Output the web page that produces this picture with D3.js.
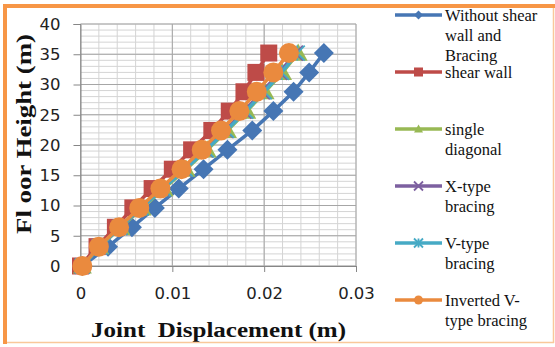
<!DOCTYPE html>
<html lang="en">
<head>
	<meta charset="utf-8">
	<title>Joint Displacement</title>
	<script src="https://d3js.org/d3.v7.min.js"></script>
	<style>
	body {margin: 0; background: #ffffff;}
	svg {display: block;}
	</style>
</head>
<body>
<div id="chart"></div>
<script>

//Floor heights (m)
var heights = [0, 3.2, 6.4, 9.6, 12.8, 16, 19.2, 22.4, 25.6, 28.8, 32, 35.2];

//Joint displacement (m) for each model
var withoutBracing = [0.0002, 0.0030, 0.0056, 0.0081, 0.0107, 0.0134, 0.0160, 0.0187, 0.0210, 0.0232, 0.0249, 0.0265];
var shearWall      = [0.0000, 0.0018, 0.0038, 0.0057, 0.0078, 0.0100, 0.0121, 0.0143, 0.0162, 0.0178, 0.0191, 0.0205];
var singleDiagonal = [0.0002, 0.0021, 0.0044, 0.0067, 0.0091, 0.0115, 0.0138, 0.0160, 0.0181, 0.0201, 0.0220, 0.0237];
var xBracing       = [0.0002, 0.0020, 0.0043, 0.0066, 0.0089, 0.0113, 0.0136, 0.0158, 0.0178, 0.0198, 0.0217, 0.0234];
var vBracing       = [0.0002, 0.0021, 0.0043, 0.0066, 0.0090, 0.0114, 0.0137, 0.0159, 0.0180, 0.0200, 0.0219, 0.0236];
var invertedV      = [0.0002, 0.0020, 0.0042, 0.0064, 0.0087, 0.0110, 0.0132, 0.0153, 0.0173, 0.0192, 0.0210, 0.0227];

//Legend labels (one list of lines per series)
var legendLabels = [
	["Without shear", "wall and", "Bracing"],
	["shear wall"],
	["single", "diagonal"],
	["X-type", "bracing"],
	["V-type", "bracing"],
	["Inverted V-", "type bracing"]
];

//Tick labels
var xTicks = [0, 0.01, 0.02, 0.03];
var yTicks = [0, 5, 10, 15, 20, 25, 30, 35, 40];

var series = [
	{values: withoutBracing, color: "#4676b4", marker: "diamond"},
	{values: shearWall, color: "#be4b48", marker: "square"},
	{values: singleDiagonal, color: "#98b954", marker: "triangle"},
	{values: xBracing, color: "#7d60a0", marker: "x"},
	{values: vBracing, color: "#46aac5", marker: "star"},
	{values: invertedV, color: "#ea8a3e", marker: "circle"}
];

var width = 555, height = 347;

var svg = d3.select("#chart").append("svg")
	.attr("width", width)
	.attr("height", height);

svg.append("rect").attr("width", width).attr("height", height).attr("fill", "#ffffff");

//Scales
var xScale = d3.scaleLinear().domain([0, 0.03]).range([80.5, 356]);
var yScale = d3.scaleLinear().domain([0, 40]).range([266, 24]);

//Gridlines - minor first, then major
var grid = svg.append("g");
grid.selectAll(".minorY")
	.data(d3.range(0, 41, 1))
	.enter().append("line")
	.attr("x1", xScale(0)).attr("x2", xScale(0.03))
	.attr("y1", function(d){ return yScale(d); })
	.attr("y2", function(d){ return yScale(d); })
	.attr("stroke", "#d4d4d4").attr("stroke-width", 1);
grid.selectAll(".minorX")
	.data(d3.range(0, 16, 1))
	.enter().append("line")
	.attr("x1", function(d){ return xScale(d * 0.002); })
	.attr("x2", function(d){ return xScale(d * 0.002); })
	.attr("y1", yScale(0)).attr("y2", yScale(40))
	.attr("stroke", "#d4d4d4").attr("stroke-width", 1);
grid.selectAll(".majorY")
	.data(yTicks)
	.enter().append("line")
	.attr("x1", xScale(0)).attr("x2", xScale(0.03))
	.attr("y1", function(d){ return yScale(d); })
	.attr("y2", function(d){ return yScale(d); })
	.attr("stroke", "#a6a6a6").attr("stroke-width", 1);
grid.selectAll(".majorX")
	.data(xTicks)
	.enter().append("line")
	.attr("x1", function(d){ return xScale(d); })
	.attr("x2", function(d){ return xScale(d); })
	.attr("y1", yScale(0)).attr("y2", yScale(40))
	.attr("stroke", "#a6a6a6").attr("stroke-width", 1);

//Axes
var yAxis = d3.axisLeft(yScale).tickValues(yTicks).tickSize(7).tickPadding(13).tickFormat(d3.format("d"));
var xAxis = d3.axisBottom(xScale).tickValues(xTicks).tickSize(6).tickPadding(15)
	.tickFormat(function(d){ return d === 0 ? "0" : d3.format(".2f")(d); });

var gy = svg.append("g").attr("transform", "translate(" + xScale(0) + ",0)").call(yAxis);
var gx = svg.append("g").attr("transform", "translate(0," + yScale(0) + ")").call(xAxis);

[gx, gy].forEach(function(g){
	g.select(".domain").attr("stroke", "#868686");
	g.selectAll(".tick line").attr("stroke", "#868686");
	g.selectAll("text")
		.attr("fill", "#222")
		.style("font-family", "'DejaVu Sans', sans-serif")
		.style("font-size", "16.5px");
});

//Marker drawing
function drawMarker(sel, type, color, s) {
	if (type === "diamond") {
		sel.append("path").attr("d", "M0," + (-s) + "L" + s + ",0L0," + s + "L" + (-s) + ",0Z").attr("fill", color);
	} else if (type === "square") {
		sel.append("rect").attr("x", -s).attr("y", -s).attr("width", 2 * s).attr("height", 2 * s).attr("fill", color);
	} else if (type === "triangle") {
		sel.append("path").attr("d", "M0," + (-s) + "L" + s + "," + (s * 0.8) + "L" + (-s) + "," + (s * 0.8) + "Z").attr("fill", color);
	} else if (type === "x") {
		sel.append("path").attr("d", "M" + (-s) + "," + (-s) + "L" + s + "," + s + "M" + (-s) + "," + s + "L" + s + "," + (-s))
			.attr("stroke", color).attr("stroke-width", 1.8).attr("fill", "none");
	} else if (type === "star") {
		sel.append("path").attr("d", "M" + (-s) + "," + (-s) + "L" + s + "," + s + "M" + (-s) + "," + s + "L" + s + "," + (-s) + "M0," + (-s) + "L0," + s)
			.attr("stroke", color).attr("stroke-width", 1.8).attr("fill", "none");
	} else {
		sel.append("circle").attr("r", s).attr("fill", color);
	}
}

var markerSize = {diamond: 10, square: 8.5, triangle: 9.5, x: 7.5, star: 7.5, circle: 10};

//Lines and markers for each series
var line = d3.line()
	.x(function(d){ return xScale(d[0]); })
	.y(function(d){ return yScale(d[1]); });

series.forEach(function(s){
	var pts = s.values.map(function(v, i){ return [v, heights[i]]; });
	var g = svg.append("g");
	g.append("path")
		.attr("d", line(pts))
		.attr("fill", "none")
		.attr("stroke", s.color)
		.attr("stroke-width", 3.5);
	pts.forEach(function(p){
		var m = g.append("g").attr("transform", "translate(" + xScale(p[0]) + "," + yScale(p[1]) + ")");
		drawMarker(m, s.marker, s.color, markerSize[s.marker]);
	});
});

//Axis titles
svg.append("text")
	.attr("transform", "translate(31,134) rotate(-90)")
	.attr("text-anchor", "middle")
	.attr("textLength", 200)
	.attr("lengthAdjust", "spacingAndGlyphs")
	.style("font-family", "'Liberation Serif', serif")
	.style("font-weight", "bold")
	.style("font-size", "20px")
	.attr("fill", "#111")
	.text("Fl oor Height (m)");

svg.append("text")
	.attr("x", 218.5).attr("y", 337)
	.attr("text-anchor", "middle")
	.attr("textLength", 255)
	.attr("lengthAdjust", "spacingAndGlyphs")
	.style("font-family", "'Liberation Serif', serif")
	.style("font-weight", "bold")
	.style("font-size", "20px")
	.style("white-space", "pre")
	.attr("fill", "#111")
	.text("Joint  Displacement (m)");

//Legend
var legend = svg.append("g");
series.forEach(function(s, i){
	var ly = 15 + i * 57;
	legend.append("line")
		.attr("x1", 395).attr("x2", 442)
		.attr("y1", ly).attr("y2", ly)
		.attr("stroke", s.color).attr("stroke-width", 3.5);
	var m = legend.append("g").attr("transform", "translate(418.5," + ly + ")");
	drawMarker(m, s.marker, s.color, 4.5);
	legendLabels[i].forEach(function(t, j){
		legend.append("text")
			.attr("x", 445).attr("y", ly + 5.5 + j * 20)
			.style("font-family", "'Liberation Serif', serif")
			.style("font-size", "16.5px")
			.attr("fill", "#111")
			.text(t);
	});
});

//Orange frame
svg.append("line").attr("x1", 5).attr("x2", 5).attr("y1", 4).attr("y2", 344).attr("stroke", "#f79646").attr("stroke-width", 4);
svg.append("line").attr("x1", 3).attr("x2", 555).attr("y1", 6).attr("y2", 6).attr("stroke", "#f79646").attr("stroke-width", 4);
svg.append("line").attr("x1", 553.5).attr("x2", 553.5).attr("y1", 8).attr("y2", 343).attr("stroke", "#f9c89a").attr("stroke-width", 1.5);
svg.append("line").attr("x1", 7).attr("x2", 554).attr("y1", 342.5).attr("y2", 342.5).attr("stroke", "#f9c89a").attr("stroke-width", 1.5);

</script>
</body>
</html>
